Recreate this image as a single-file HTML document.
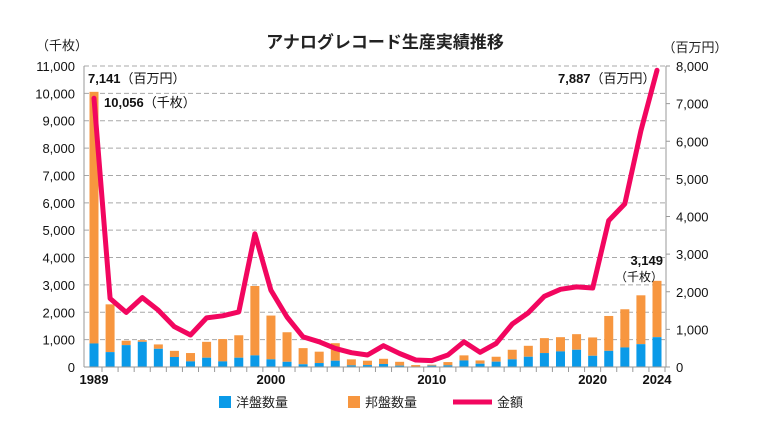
<!DOCTYPE html>
<html><head><meta charset="utf-8">
<style>
body{margin:0;background:#fff;}
svg{display:block;font-family:"Liberation Sans","Noto Sans CJK JP",sans-serif;}
</style></head>
<body>
<svg id="chart" width="765" height="430" viewBox="0 0 765 430">
<text x="385" y="48" text-anchor="middle" font-size="17" font-weight="bold" fill="#222">アナログレコード生産実績推移</text>
<text x="62" y="50" text-anchor="middle" font-size="13" fill="#222">（千枚）</text>
<text x="695" y="52" text-anchor="middle" font-size="13" fill="#222">（百万円）</text>
<g id="grid"></g><g id="bars"></g><g id="axes"></g><g id="line"></g>
<text x="88" y="83" font-size="13" fill="#111"><tspan font-weight="bold">7,141</tspan>（百万円）</text>
<text x="104" y="107" font-size="13" fill="#111"><tspan font-weight="bold">10,056</tspan>（千枚）</text>
<text x="558" y="83" font-size="13" fill="#111"><tspan font-weight="bold">7,887</tspan>（百万円）</text>
<text x="663" y="265" text-anchor="end" font-size="13" font-weight="bold" fill="#111">3,149</text>
<text x="663" y="281" text-anchor="end" font-size="12" fill="#111">（千枚）</text>
<g>
<rect x="219" y="396" width="12" height="12" fill="#0a9ae8"/>
<text x="236" y="407" font-size="13" fill="#222">洋盤数量</text>
<rect x="348" y="396" width="12" height="12" fill="#f7963f"/>
<text x="365" y="407" font-size="13" fill="#222">邦盤数量</text>
<line x1="453" y1="402" x2="492" y2="402" stroke="#f2065f" stroke-width="5"/>
<text x="497" y="407" font-size="13" fill="#222">金額</text>
</g>
</svg>
<script>
const years=[1989,1990,1991,1992,1993,1994,1995,1996,1997,1998,1999,2000,2001,2002,2003,2004,2005,2006,2007,2008,2009,2010,2011,2012,2013,2014,2015,2016,2017,2018,2019,2020,2021,2022,2023,2024];
const totalUnits=[10056,2290,960,980,825,590,510,920,1020,1160,2960,1880,1270,690,560,870,280,230,300,190,70,85,180,425,240,375,630,775,1055,1090,1200,1080,1865,2110,2620,3149];
const foreignUnits=[860,545,800,920,665,365,205,340,205,340,425,280,190,100,145,230,60,70,110,50,10,50,60,240,120,195,280,375,510,570,630,410,590,715,835,1090];
const amount=[7141,1820,1450,1845,1510,1070,850,1305,1360,1465,3540,2040,1330,800,670,495,380,320,565,360,185,170,320,670,390,625,1140,1440,1880,2065,2130,2100,3890,4335,6280,7887];
const leftTicks=[0,1000,2000,3000,4000,5000,6000,7000,8000,9000,10000,11000];
const rightTicks=[0,1000,2000,3000,4000,5000,6000,7000,8000];
const xLabels=[1989,2000,2010,2020,2024];

const NS="http://www.w3.org/2000/svg";
const X0=84,X1=666,Y0=367,YT=66;
function x(i){return 94+i*(657-94)/(years.length-1);}
function yl(v){return Y0-(v/11000)*(Y0-YT);}
function yr(v){return Y0-(v/8000)*(Y0-YT);}
function mk(tag,attrs,parent){const e=document.createElementNS(NS,tag);for(const k in attrs)e.setAttribute(k,attrs[k]);parent.appendChild(e);return e;}
const grid=document.getElementById('grid'),bars=document.getElementById('bars'),axes=document.getElementById('axes'),lineG=document.getElementById('line');

leftTicks.forEach(v=>{
  if(v>0){const g=mk('line',{x1:X0,x2:X1,y1:yl(v),y2:yl(v),stroke:'#a8a8a8','stroke-width':1,'stroke-dasharray':'5,3'},grid);
  
  }
  const t=mk('text',{x:75,y:yl(v)+5,'text-anchor':'end','font-size':13,fill:'#111'},axes);
  t.textContent=v.toLocaleString('en-US');
  
  
});
rightTicks.forEach(v=>{
  const t=mk('text',{x:676,y:yr(v)+5,'font-size':13,fill:'#111'},axes);
  t.textContent=v.toLocaleString('en-US');
  
  
  const tk=mk('line',{x1:X1,x2:X1+4,y1:yr(v),y2:yr(v),stroke:'#999'},axes);
  
  
});
years.forEach((yv,i)=>{
  const w=9,cx=x(i);
  const d=mk('rect',{x:cx-w/2,y:yl(totalUnits[i]),width:w,height:yl(foreignUnits[i])-yl(totalUnits[i]),fill:'#f7963f'},bars);
  
  
  const f=mk('rect',{x:cx-w/2,y:yl(foreignUnits[i]),width:w,height:Y0-yl(foreignUnits[i]),fill:'#0a9ae8'},bars);
  
  
  const tk=mk('line',{x1:cx+8,x2:cx+8,y1:Y0,y2:Y0+5,stroke:'#999'},axes);
  
  
  if(xLabels.includes(yv)){
    const t=mk('text',{x:cx,y:Y0+17,'text-anchor':'middle','font-size':13,'font-weight':'bold',fill:'#111'},axes);
    t.textContent=yv;
    
    
  }
});
const la=mk('line',{x1:X0,x2:X0,y1:YT,y2:Y0,stroke:'#999'},axes);


const ra=mk('line',{x1:X1,x2:X1,y1:YT,y2:Y0,stroke:'#999'},axes);


const xa=mk('line',{x1:X0,x2:X1,y1:Y0,y2:Y0,stroke:'#999'},axes);


const pts=amount.map((v,i)=>x(i).toFixed(1)+','+yr(v).toFixed(1)).join(' ');
const pl=mk('polyline',{points:pts,fill:'none',stroke:'#f2065f','stroke-width':5,'stroke-linejoin':'round','stroke-linecap':'round'},lineG);


</script>
</body></html>
